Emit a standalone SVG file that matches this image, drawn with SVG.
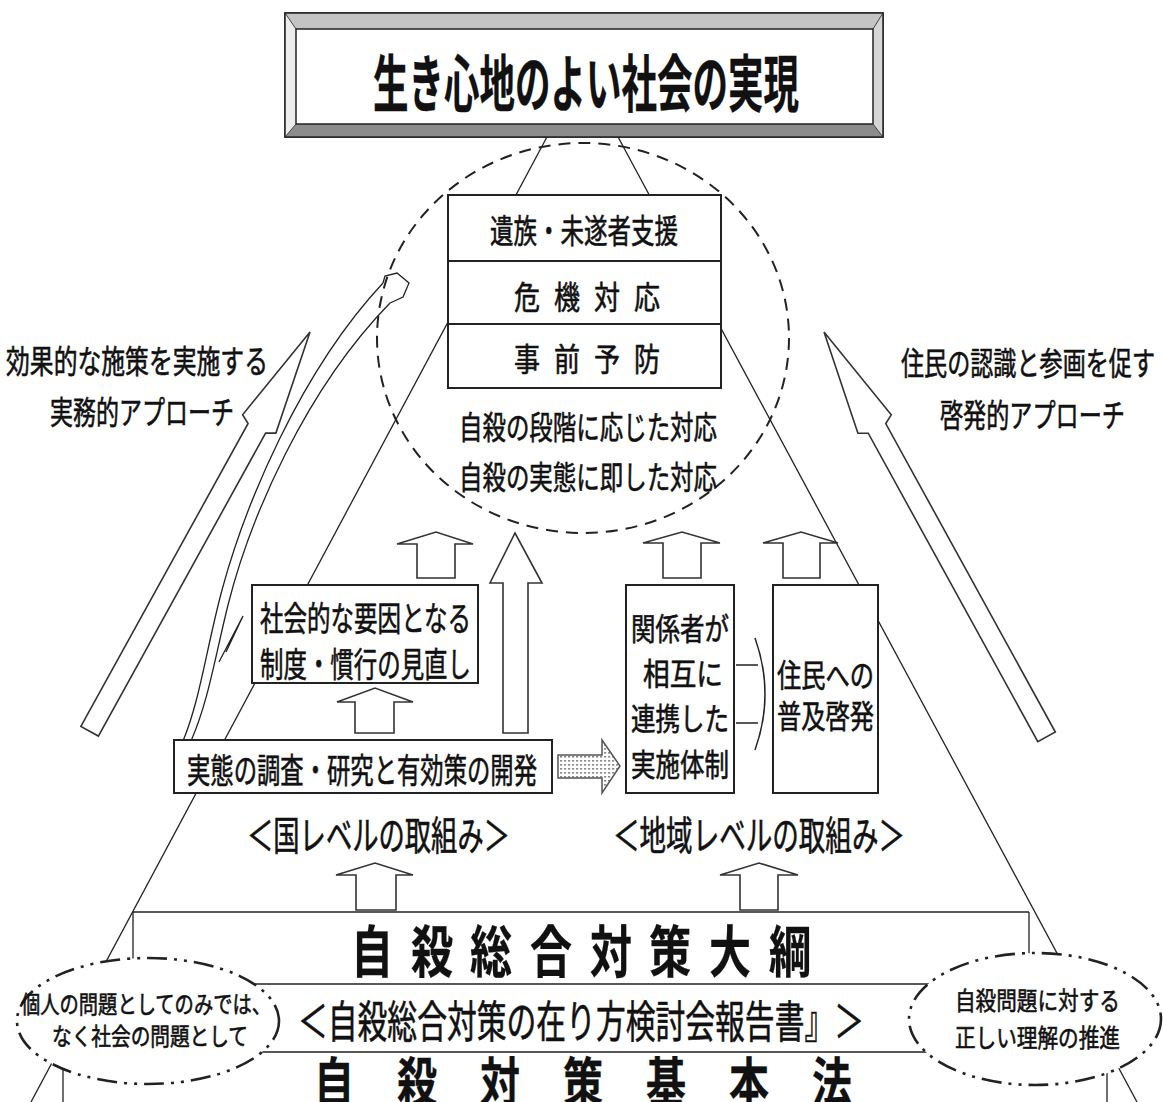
<svg xmlns="http://www.w3.org/2000/svg" width="1163" height="1102" viewBox="0 0 1163 1102">
<defs>
<style>
.ln{stroke:#222;stroke-width:1.3;fill:none}
.box{fill:#fff;stroke:#222;stroke-width:2}
.arw{fill:#fff;stroke:#333;stroke-width:1.6;stroke-linejoin:miter}
.t{font-family:"Noto Sans CJK JP","Noto Sans CJK SC",sans-serif;fill:#111;stroke:#111;stroke-width:0.6;dominant-baseline:central}
.b{font-weight:bold;stroke-width:0.3}
.ell{fill:#fff;stroke:#222;stroke-width:2.6;stroke-dasharray:20 7 3 7 3 7}
.g1{font-size:32px}
.g2{font-size:56px}
.g3{font-size:53px}
</style>
<pattern id="dots" width="4" height="4" patternUnits="userSpaceOnUse"><rect width="4" height="4" fill="#fff"/><rect width="2.2" height="1.6" fill="#8a8a8a"/></pattern>
</defs>
<rect width="1163" height="1102" fill="#fff"/>

<g id="connectors">
<line class="ln" x1="548" y1="135" x2="31" y2="1102"/>
<line class="ln" x1="617" y1="135" x2="1137" y2="1102"/>
<path class="ln" d="M133,912 H1029 M133,912 V962 M1029,912 V962 M133,984 H1029 M63,1052 H1107 M63,1052 V1102 M1107,1052 V1102"/>
</g>

<g id="title">
<rect x="285" y="13" width="598" height="124" fill="#ccc" stroke="#222" stroke-width="1.5"/>
<polygon points="285,13 883,13 873,29 296,29" fill="#c4c4c4"/>
<polygon points="285,137 883,137 873,124 296,124" fill="#8c8c8c"/>
<polygon points="285,13 296,29 296,124 285,137" fill="#ececec"/>
<polygon points="883,13 873,29 873,124 883,137" fill="#d6d6d6"/>
<path d="M285,13 L296,29 M883,13 L873,29 M285,137 L296,124 M883,137 L873,124" stroke="#444" stroke-width="1"/>
<rect x="285" y="13" width="598" height="124" fill="none" stroke="#222" stroke-width="1.5"/>
<rect x="296" y="29" width="577" height="95" fill="#fff" stroke="#222" stroke-width="1.5"/>
<text class="t b" x="373" y="80" font-size="62" textLength="426" lengthAdjust="spacingAndGlyphs">生き心地のよい社会の実現</text>
</g>

<g id="circle">
<ellipse cx="583" cy="338" rx="206" ry="195" fill="none" stroke="#222" stroke-width="2" stroke-dasharray="12 8"/>
</g>

<g id="stack">
<rect class="box" x="448" y="195" width="273" height="193"/>
<line x1="448" y1="261" x2="721" y2="261" stroke="#222" stroke-width="2"/>
<line x1="448" y1="324" x2="721" y2="324" stroke="#222" stroke-width="2"/>
<text class="t" x="490" y="229" font-size="33" textLength="188" lengthAdjust="spacingAndGlyphs">遺族・未遂者支援</text>
<text class="t g1" x="514" y="295" textLength="26" lengthAdjust="spacingAndGlyphs">危</text>
<text class="t g1" x="554" y="295" textLength="26" lengthAdjust="spacingAndGlyphs">機</text>
<text class="t g1" x="594" y="295" textLength="26" lengthAdjust="spacingAndGlyphs">対</text>
<text class="t g1" x="634" y="295" textLength="26" lengthAdjust="spacingAndGlyphs">応</text>
<text class="t g1" x="514" y="357" textLength="26" lengthAdjust="spacingAndGlyphs">事</text>
<text class="t g1" x="554" y="357" textLength="26" lengthAdjust="spacingAndGlyphs">前</text>
<text class="t g1" x="594" y="357" textLength="26" lengthAdjust="spacingAndGlyphs">予</text>
<text class="t g1" x="634" y="357" textLength="26" lengthAdjust="spacingAndGlyphs">防</text>
<text class="t" x="459" y="425" font-size="32" textLength="258" lengthAdjust="spacingAndGlyphs">自殺の段階に応じた対応</text>
<text class="t" x="459" y="475" font-size="32" textLength="258" lengthAdjust="spacingAndGlyphs">自殺の実態に即した対応</text>
</g>

<g id="left-approach">
<polygon class="arw" transform="translate(310,332) rotate(-61.1)" points="0,0 -105,-19 -110,-10 -456,-10 -456,10 -110,10 -105,19"/>
<text class="t" x="6" y="359" font-size="32" textLength="262" lengthAdjust="spacingAndGlyphs">効果的な施策を実施する</text>
<text class="t" x="50" y="410" font-size="32" textLength="184" lengthAdjust="spacingAndGlyphs">実務的アプローチ</text>
</g>

<g id="right-approach">
<polygon class="arw" transform="translate(824,332) rotate(-118.8)" points="0,0 -105,-19 -110,-10 -462,-10 -462,10 -110,10 -105,19"/>
<text class="t" x="901" y="361" font-size="32" textLength="254" lengthAdjust="spacingAndGlyphs">住民の認識と参画を促す</text>
<text class="t" x="940" y="413" font-size="32" textLength="185" lengthAdjust="spacingAndGlyphs">啓発的アプローチ</text>
</g>

<g id="curved-arrow" fill="none" stroke="#222" stroke-width="1.3">
<path d="M183,741 C200,700 206,650 222,590 C245,505 300,372 383,283"/>
<path d="M191,741 C208,702 214,662 228,605 C250,518 305,390 390,303"/>
<path d="M219,662 L243,616 L226,652"/>
<path d="M383,283 L385,276 L397,273 L409,283 L403,297 L390,303"/>
</g>

<g id="social-box">
<rect class="box" x="252" y="585" width="226" height="98"/>
<text class="t" x="260" y="616" font-size="34" textLength="211" lengthAdjust="spacingAndGlyphs">社会的な要因となる</text>
<text class="t" x="260" y="662" font-size="34" textLength="211" lengthAdjust="spacingAndGlyphs">制度・慣行の見直し</text>
</g>

<g id="research-box">
<rect class="box" x="174" y="740" width="378" height="53"/>
<text class="t" x="187" y="768" font-size="34" textLength="350" lengthAdjust="spacingAndGlyphs">実態の調査・研究と有効策の開発</text>
</g>

<g id="coop-box">
<rect class="box" x="626" y="585" width="108" height="208"/>
<text class="t" x="631" y="626" font-size="31" textLength="98" lengthAdjust="spacingAndGlyphs">関係者が</text>
<text class="t" x="643" y="671" font-size="31" textLength="80" lengthAdjust="spacingAndGlyphs">相互に</text>
<text class="t" x="631" y="716" font-size="31" textLength="98" lengthAdjust="spacingAndGlyphs">連携した</text>
<text class="t" x="631" y="762" font-size="31" textLength="98" lengthAdjust="spacingAndGlyphs">実施体制</text>
</g>

<g id="resident-box">
<rect class="box" x="773" y="585" width="105" height="208"/>
<text class="t" x="777" y="673" font-size="32" textLength="97" lengthAdjust="spacingAndGlyphs">住民への</text>
<text class="t" x="777" y="714" font-size="32" textLength="97" lengthAdjust="spacingAndGlyphs">普及啓発</text>
</g>

<g id="block-arrows">
<path class="arw" d="M417,578 V544 H397 L436,532 L473,544 H455 V578 Z"/>
<path class="arw" d="M355,733 V702 H337 L375,688 L413,702 H394 V733 Z"/>
<path class="arw" d="M503,733 V583 H490 L515,533 L542,583 H528 V733 Z"/>
<path class="arw" d="M663,578 V543 H643 L682,532 L720,543 H701 V578 Z"/>
<path class="arw" d="M783,578 V543 H763 L801,532 L838,543 H820 V578 Z"/>
<path class="arw" d="M356,910 V875 H336 L375,863 L413,875 H396 V910 Z"/>
<path class="arw" d="M740,910 V875 H720 L759,863 L798,875 H778 V910 Z"/>
<path d="M558,755 H602 V740 L620,766 L602,793 V778 H558 Z" fill="url(#dots)" stroke="#555" stroke-width="1.5"/>
<path d="M736,665 H758 M736,723 H758 M755,638 Q775,694 755,750" fill="none" stroke="#222" stroke-width="1.5"/>
</g>

<g id="levels">
<text class="t" x="247" y="833" font-size="40" textLength="263" lengthAdjust="spacingAndGlyphs">＜国レベルの取組み＞</text>
<text class="t" x="613" y="833" font-size="40" textLength="292" lengthAdjust="spacingAndGlyphs">＜地域レベルの取組み＞</text>
</g>

<g id="foundation">
<text class="t b g2" x="351" y="947" textLength="42" lengthAdjust="spacingAndGlyphs">自</text>
<text class="t b g2" x="411" y="947" textLength="42" lengthAdjust="spacingAndGlyphs">殺</text>
<text class="t b g2" x="470" y="947" textLength="42" lengthAdjust="spacingAndGlyphs">総</text>
<text class="t b g2" x="530" y="947" textLength="42" lengthAdjust="spacingAndGlyphs">合</text>
<text class="t b g2" x="590" y="947" textLength="42" lengthAdjust="spacingAndGlyphs">対</text>
<text class="t b g2" x="649" y="947" textLength="42" lengthAdjust="spacingAndGlyphs">策</text>
<text class="t b g2" x="709" y="947" textLength="42" lengthAdjust="spacingAndGlyphs">大</text>
<text class="t b g2" x="769" y="947" textLength="42" lengthAdjust="spacingAndGlyphs">綱</text>
<text class="t" x="298" y="1019" font-size="44" textLength="566" lengthAdjust="spacingAndGlyphs">＜自殺総合対策の在り方検討会報告書』＞</text>
<text class="t b g3" x="314" y="1079" textLength="40" lengthAdjust="spacingAndGlyphs">自</text>
<text class="t b g3" x="397" y="1079" textLength="40" lengthAdjust="spacingAndGlyphs">殺</text>
<text class="t b g3" x="480" y="1079" textLength="40" lengthAdjust="spacingAndGlyphs">対</text>
<text class="t b g3" x="563" y="1079" textLength="40" lengthAdjust="spacingAndGlyphs">策</text>
<text class="t b g3" x="646" y="1079" textLength="40" lengthAdjust="spacingAndGlyphs">基</text>
<text class="t b g3" x="729" y="1079" textLength="40" lengthAdjust="spacingAndGlyphs">本</text>
<text class="t b g3" x="812" y="1079" textLength="40" lengthAdjust="spacingAndGlyphs">法</text>
</g>

<g id="left-ellipse">
<ellipse class="ell" cx="148" cy="1021" rx="131" ry="63"/>
<text class="t" x="21" y="1002" font-size="24" textLength="250" lengthAdjust="spacingAndGlyphs">個人の問題としてのみでは、</text>
<text class="t" x="52" y="1034" font-size="24" textLength="196" lengthAdjust="spacingAndGlyphs">なく社会の問題として</text>
</g>

<g id="right-ellipse">
<ellipse class="ell" cx="1035" cy="1019" rx="126" ry="66"/>
<text class="t" x="955" y="999" font-size="25" textLength="165" lengthAdjust="spacingAndGlyphs">自殺問題に対する</text>
<text class="t" x="955" y="1036" font-size="25" textLength="165" lengthAdjust="spacingAndGlyphs">正しい理解の推進</text>
</g>
</svg>
